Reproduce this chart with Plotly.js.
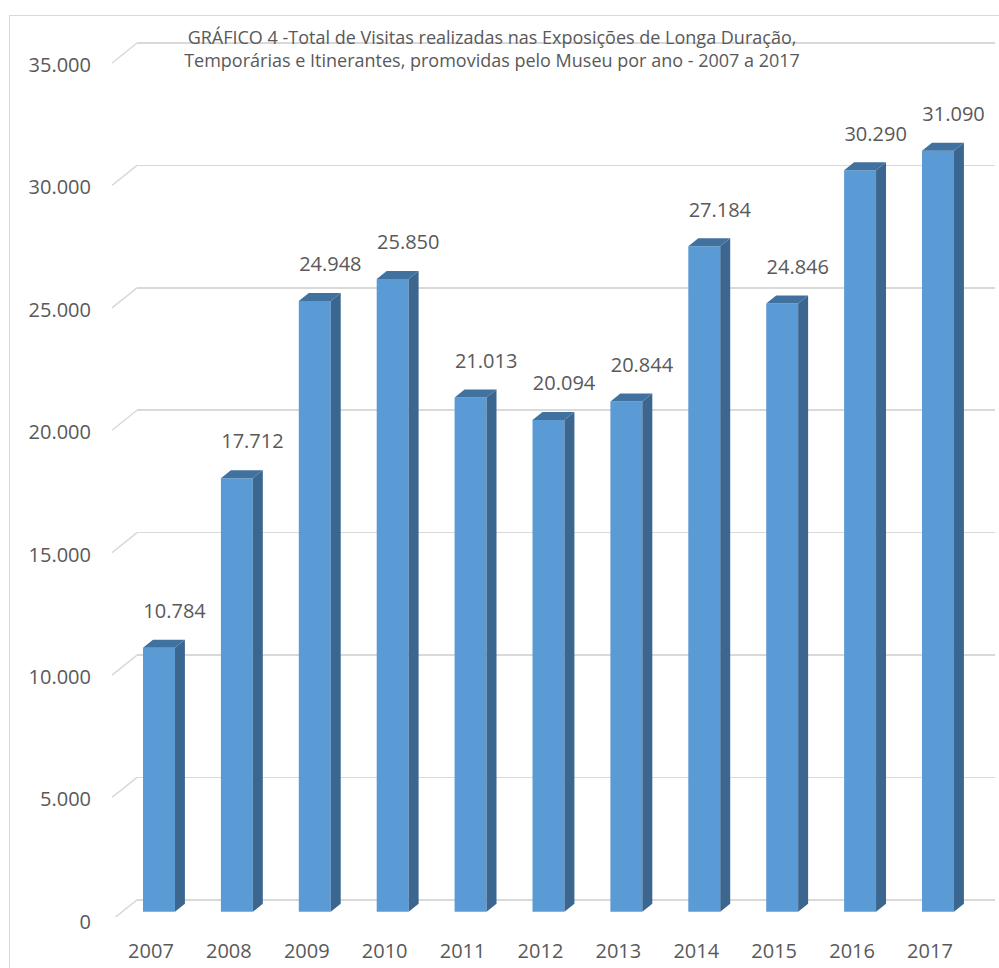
<!DOCTYPE html>
<html>
<head>
<meta charset="utf-8">
<script src="https://cdn.plot.ly/plotly-3.0.1.min.js"></script>
<style>
  html, body { margin: 0; padding: 0; background: #ffffff; }
  #wrap { position: relative; width: 999px; height: 968px; overflow: hidden; }
  #chart { position: absolute; left: 0; top: 0; width: 999px; height: 968px; }
  #frame { position: absolute; left: 9px; top: 15px; width: 1000px; height: 1000px;
           border-left: 1.5px solid #D9D9D9; border-top: 1.5px solid #D9D9D9; pointer-events: none; }
</style>
</head>
<body>
<div id="wrap">
  <div id="chart"></div>
  <div id="frame"></div>
</div>
<script>
// ---- data ----
const years = ['2007', '2008', '2009', '2010', '2011', '2012', '2013', '2014', '2015', '2016', '2017'];
const visits = [10784, 17712, 24948, 25850, 21013, 20094, 20844, 27184, 24846, 30290, 31090];
const yTicks = [0, 5000, 10000, 15000, 20000, 25000, 30000, 35000];
const titleText = 'GRÁFICO 4 -Total de Visitas realizadas nas Exposições de Longa Duração,<br>' +
                  'Temporárias e Itinerantes, promovidas pelo Museu por ano - 2007 a 2017';

// ---- 3D-look styling constants (in axis units) ----
const FRONT_DROP = 490;   // bars stand in front of the back wall
const BAR_W = 0.41;
const DEPTH_X = 0.128;
const DEPTH_Y = 327;
const LABEL_DX = 0.2;
const LABEL_GAP = 1420;
const GRID_DROP = 817;    // floor edge of each gridline
const TEXT = '#595959';
const FONT = 'Open Sans, sans-serif';

const xs = years.map((_, i) => i);

// side faces & top faces as polygons built from the data
const sideX = [], sideY = [], topX = [], topY = [];
visits.forEach((v, i) => {
  const xl = i - BAR_W / 2, xr = i + BAR_W / 2;
  const yb = -FRONT_DROP, yt = v - FRONT_DROP;
  sideX.push(xr, xr + DEPTH_X, xr + DEPTH_X, xr, xr, null);
  sideY.push(yb, yb + DEPTH_Y, yt + DEPTH_Y, yt, yb, null);
  topX.push(xl, xr, xr + DEPTH_X, xl + DEPTH_X, xl, null);
  topY.push(yt, yt, yt + DEPTH_Y, yt + DEPTH_Y, yt, null);
});

const traces = [
  {
    type: 'bar', x: xs, y: visits, base: visits.map(() => -FRONT_DROP),
    width: BAR_W, marker: { color: '#5B9BD5', line: { width: 0 } },
    hoverinfo: 'skip', showlegend: false
  },
  {
    type: 'scatter', mode: 'lines', x: sideX, y: sideY, fill: 'toself',
    fillcolor: '#3B6690', line: { width: 0, color: '#3B6690' },
    hoverinfo: 'skip', showlegend: false
  },
  {
    type: 'scatter', mode: 'lines', x: topX, y: topY, fill: 'toself',
    fillcolor: '#41729F', line: { width: 0, color: '#41729F' },
    hoverinfo: 'skip', showlegend: false
  },
  {
    type: 'scatter', mode: 'text', x: xs.map(i => i + LABEL_DX),
    y: visits.map(v => v - FRONT_DROP + LABEL_GAP), customdata: visits,
    texttemplate: '%{customdata:,d}', textposition: 'middle center',
    textfont: { family: FONT, size: 20, color: TEXT },
    cliponaxis: false, hoverinfo: 'skip', showlegend: false
  }
];

const shapes = yTicks.map(t => ({
  type: 'line', layer: 'below', xref: 'x domain', yref: 'y',
  x0: 0, x1: -0.0291, y0: t, y1: t - GRID_DROP,
  line: { color: '#D9D9D9', width: 1.5 }
}));

const layout = {
  width: 999, height: 968,
  margin: { l: 137, r: 4, t: 40, b: 51 },
  paper_bgcolor: '#ffffff', plot_bgcolor: '#ffffff',
  separators: ',.',
  font: { family: FONT, color: TEXT, size: 20 },
  title: {
    text: titleText, font: { family: FONT, size: 18, color: TEXT },
    xref: 'container', yref: 'container', x: 0.4925, xanchor: 'center',
    y: 1 - 44 / 968, yanchor: 'top'
  },
  xaxis: {
    range: [-0.282, 10.732], tickvals: xs, ticktext: years,
    showgrid: false, zeroline: false, showline: false, ticks: '',
    tickfont: { family: FONT, size: 20, color: TEXT },
    ticklabelshift: -8, ticklabelstandoff: 20, fixedrange: true
  },
  yaxis: {
    range: [-700, 35122], tickvals: yTicks, tickformat: ',d',
    showgrid: true, gridcolor: '#D9D9D9', gridwidth: 1.5,
    zeroline: false, showline: false, ticks: '',
    tickfont: { family: FONT, size: 20, color: TEXT },
    ticklabelshift: 22, ticklabelstandoff: 45, fixedrange: true
  },
  shapes: shapes,
  showlegend: false
};

Plotly.newPlot('chart', traces, layout, { displayModeBar: false, staticPlot: true });
</script>
</body>
</html>
